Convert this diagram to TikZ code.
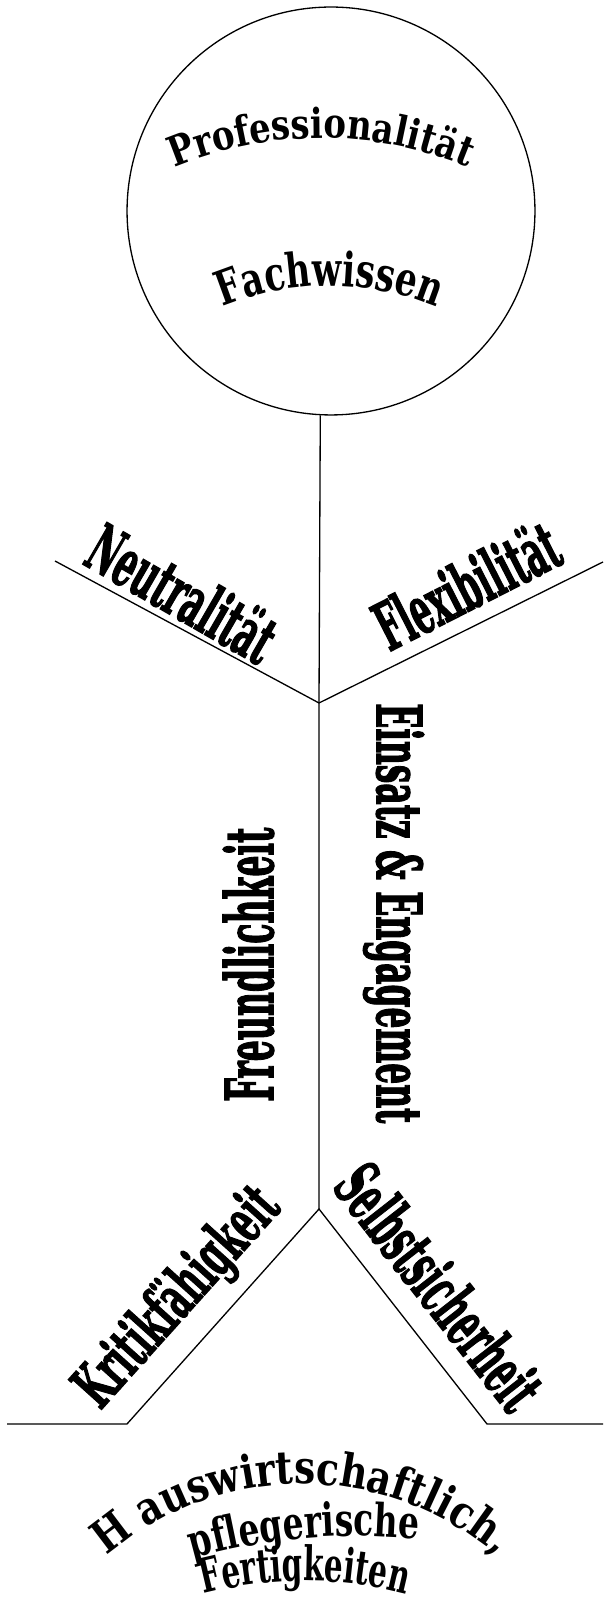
\documentclass[tikz,border=0pt]{standalone}
\usepackage{fontspec}
\usepackage{graphicx}
\usetikzlibrary{decorations.text}
\setmainfont{DejaVu Serif}
\newfontfamily\headfont[FakeStretch=0.82]{DejaVu Serif}
\newfontfamily\narrowfont[FakeStretch=0.72]{DejaVu Serif}
\newfontfamily\tallfont[FakeStretch=0.62]{DejaVu Serif}
\newfontfamily\armfont[BoldFeatures={FakeBold=2.5}]{DejaVu Serif}
\newlength{\pxu}
\setlength{\pxu}{0.02cm}
% width, height (in px of the sketch), word
\newcommand{\tallword}[3]{\resizebox{#1\pxu}{#2\pxu}{\armfont\bfseries #3}}
\tikzset{
  limb/.style={line width=0.75pt},
  trait/.style={inner sep=0pt, anchor=base west},
  arcword/.style={decorate, decoration={text along path, text align=center}},
}

\begin{document}
\begin{tikzpicture}[x=0.02cm, y=0.02cm]
  \useasboundingbox (0,0) rectangle (603,1597);
  % --- Head ---
  \node[draw, circle, line width=0.75pt, minimum size=8.16cm, inner sep=0pt]
    (head) at (331,1386) {};
  \path[arcword, decoration={text={|\headfont\bfseries\fontsize{23.5}{28}\selectfont|Professionalität}}]
    (321,1079) ++(135:380) arc[start angle=135, end angle=45, radius=380];
  \path[arcword, decoration={text={|\narrowfont\bfseries\fontsize{27}{31}\selectfont|Fachwissen}}]
    (330,1031) ++(140:280) arc[start angle=140, end angle=40, radius=280];
  % --- Joints ---
  \coordinate (shoulder) at (319,894);
  \coordinate (lhand)    at (55,1036);
  \coordinate (rhand)    at (603,1035);
  \coordinate (hip)      at (319,388);
  \coordinate (lfoot)    at (127,173);
  \coordinate (lground)  at (7,173);
  \coordinate (rfoot)    at (487,173);
  \coordinate (rground)  at (603,173);
  % --- Body ---
  \draw[limb] (head.-93.4) -- (shoulder) -- (hip);
  \draw[limb] (lhand) -- (shoulder) -- (rhand);
  \draw[limb] (lground) -- (lfoot) -- (hip) -- (rfoot) -- (rground);
  % --- Arms and body words ---
  \node[trait, rotate=-30] (neutral)  at (81,1034) {\tallword{205}{52}{Neutralität}};
  \node[trait, rotate=27]  (flex)     at (389,945) {\tallword{198}{52}{Flexibilität}};
  \node[trait, rotate=90]  (friendly) at (273,495) {\tallword{274}{50}{Freundlichkeit}};
  \node[trait, rotate=-90] (effort)   at (377,894) {\tallword{420}{47}{Einsatz \& Engagement}};
  % --- Legs ---
  \node[trait, rotate=48]  (critic)   at (100,186) {\tallword{272}{48}{Kritikfähigkeit}};
  \node[trait, rotate=-52] (selfsure) at (331,410) {\tallword{290}{50}{Selbstsicherheit}};
  % --- Ground words ---
  \path[arcword, decoration={text={|\headfont\bfseries\fontsize{26}{30}\selectfont|H auswirtschaftlich,}}]
    (302,-187) ++(150:300) arc[start angle=150, end angle=30, radius=300];
  \path[arcword, decoration={text={|\narrowfont\bfseries\fontsize{26}{30}\selectfont|pflegerische}}]
    (357,-539) ++(112:600) arc[start angle=112, end angle=78, radius=600];
  \path[arcword, decoration={text={|\tallfont\bfseries\fontsize{27}{31}\selectfont|Fertigkeiten}}]
    (305,-384) ++(120:400) arc[start angle=120, end angle=60, radius=400];
\end{tikzpicture}
\end{document}
